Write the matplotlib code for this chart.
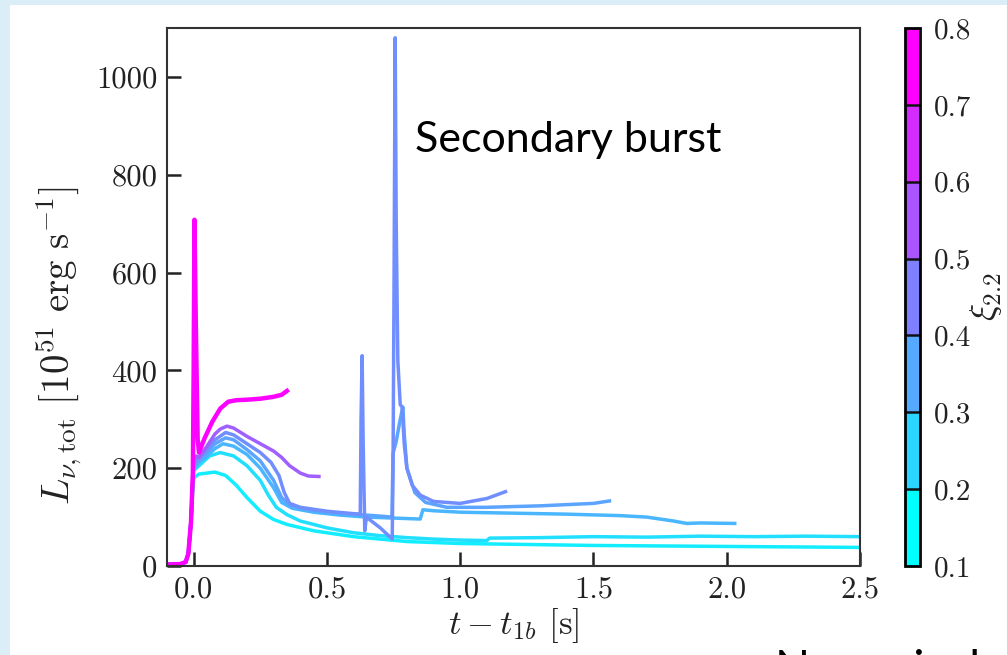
import numpy as np
import matplotlib
matplotlib.use("Agg")
import matplotlib.pyplot as plt
from matplotlib.patches import Rectangle
from matplotlib.colors import BoundaryNorm, Normalize
from matplotlib.cm import ScalarMappable
from matplotlib.ticker import FormatStrFormatter

# ---------------- data ----------------
xi_values = [0.15, 0.19, 0.30, 0.35, 0.41, 0.54, 0.79]

t_g = [-0.10, -0.05, -0.03, -0.02, -0.01, -0.003, 0.0, 0.02, 0.05, 0.08, 0.12, 0.16, 0.20, 0.25,
       0.30, 0.35, 0.45, 0.60, 0.80, 1.00, 1.50, 2.00, 2.50]
L_g = [3, 4, 8, 25, 90, 160, 180, 188, 190, 192, 185, 165, 140, 112,
       95, 85, 72, 60, 50, 46, 42, 40, 38]

t_f = [-0.10, -0.05, -0.03, -0.02, -0.01, -0.003, 0.0, 0.03, 0.06, 0.10, 0.15, 0.20, 0.25, 0.28,
       0.31, 0.35, 0.40, 0.50, 0.60, 0.70, 0.80, 0.90, 1.00, 1.10, 1.11, 1.30, 1.50, 1.70,
       1.90, 2.10, 2.30, 2.50]
L_f = [3, 4, 8, 25, 90, 170, 195, 210, 225, 232, 225, 205, 175, 145,
       120, 105, 92, 78, 68, 62, 58, 55, 53, 52, 57, 58, 60, 59,
       61, 60, 61, 60]

t_e = [-0.10, -0.05, -0.03, -0.02, -0.01, -0.003, 0.0, 0.02, 0.05, 0.08, 0.11, 0.15, 0.20, 0.25,
       0.30, 0.33, 0.37, 0.45, 0.55, 0.65, 0.75, 0.85, 0.86, 0.90, 1.00, 1.20, 1.40, 1.60,
       1.70, 1.80, 1.85, 1.90, 2.03]
L_e = [3, 4, 8, 25, 90, 175, 200, 212, 225, 240, 250, 245, 228, 200,
       160, 130, 118, 110, 104, 100, 98, 96, 115, 113, 110, 108, 106, 103,
       100, 92, 87, 88, 87]

t_d = [-0.10, -0.05, -0.03, -0.02, -0.01, -0.003, 0.0, 0.02, 0.05, 0.08, 0.12, 0.15, 0.20, 0.25,
       0.30, 0.33, 0.36, 0.40, 0.50, 0.60, 0.70, 0.744, 0.748, 0.760, 0.775, 0.785, 0.790,
       0.800, 0.830, 0.870, 0.950, 1.10, 1.30, 1.50, 1.56]
L_d = [3, 4, 8, 25, 90, 180, 205, 215, 232, 250, 262, 258, 238, 215,
       175, 140, 125, 118, 110, 106, 102, 100, 230, 255, 300, 325, 270,
       200, 150, 130, 120, 120, 123, 128, 133]

t_c = [-0.10, -0.05, -0.03, -0.02, -0.01, -0.003, 0.0, 0.02, 0.05, 0.08, 0.12, 0.15, 0.20, 0.25,
       0.29, 0.32, 0.34, 0.36, 0.40, 0.50, 0.60, 0.625, 0.628, 0.632, 0.636, 0.642, 0.648,
       0.655, 0.700, 0.745, 0.748, 0.752, 0.756, 0.760, 0.766, 0.775, 0.782, 0.790, 0.800,
       0.820, 0.850, 0.900, 1.00, 1.10, 1.17]
L_c = [3, 4, 8, 25, 90, 185, 210, 220, 238, 258, 273, 268, 250, 232,
       212, 185, 150, 128, 120, 112, 107, 106, 300, 430, 250, 72, 100,
       97, 78, 55, 200, 600, 1080, 700, 420, 330, 325, 250, 200,
       165, 145, 132, 128, 138, 152]

t_b = [-0.10, -0.05, -0.03, -0.02, -0.01, -0.003, 0.0, 0.01, 0.02, 0.05, 0.08, 0.10, 0.125, 0.15,
       0.20, 0.25, 0.30, 0.33, 0.36, 0.40, 0.43, 0.47]
L_b = [3, 4, 8, 25, 90, 180, 215, 225, 222, 245, 270, 280, 286, 282,
       265, 250, 235, 222, 205, 190, 184, 183]

t_a = [-0.10, -0.05, -0.03, -0.02, -0.01, -0.003, 0.0, 0.003, 0.008, 0.015, 0.02, 0.04, 0.07,
       0.10, 0.13, 0.16, 0.20, 0.25, 0.30, 0.33, 0.35]
L_a = [3, 4, 8, 25, 90, 190, 400, 708, 500, 260, 232, 260, 295,
       322, 336, 339, 340, 342, 346, 350, 358]

series_t = [t_g, t_f, t_e, t_d, t_c, t_b, t_a]
series_L = [L_g, L_f, L_e, L_d, L_c, L_b, L_a]

xticks = [0.0, 0.5, 1.0, 1.5, 2.0, 2.5]
yticks = [0, 200, 400, 600, 800, 1000]
cbar_bounds = [0.1, 0.2, 0.3, 0.4, 0.5, 0.6, 0.7, 0.8]

# ---------------- style ----------------
plt.rcParams['font.family'] = 'serif'
plt.rcParams['font.serif'] = ['cmr10', 'DejaVu Serif']
plt.rcParams['mathtext.fontset'] = 'cm'
plt.rcParams['axes.formatter.use_mathtext'] = True

fig = plt.figure(figsize=(10.07, 6.55), dpi=100, facecolor='#dbeef8')
fig.add_artist(Rectangle((10 / 1007, 0), 1, 1 - 5 / 655, transform=fig.transFigure,
                         facecolor='white', edgecolor='none', zorder=-10))

ax = fig.add_axes([167 / 1007, 1 - 566 / 655, 693 / 1007, 538 / 655])
cax = fig.add_axes([905 / 1007, 1 - 566 / 655, 15 / 1007, 538 / 655])

cmap = plt.get_cmap('cool')
line_norm = Normalize(0.1, 0.8)
for t, L, xi in zip(series_t, series_L, xi_values):
    lw = 3.2 if xi > 0.7 else 2.5
    ax.plot(t, L, color=cmap(line_norm(xi)), lw=lw, solid_joinstyle='round')

ax.set_xlim(-0.1, 2.5)
ax.set_ylim(0, 1100)
ax.set_xticks(xticks)
ax.set_yticks(yticks)
ax.xaxis.set_major_formatter(FormatStrFormatter('%.1f'))
ax.yaxis.set_major_formatter(FormatStrFormatter('%d'))
ax.tick_params(direction='in', length=10, width=1.8, labelsize=22, color='#222222',
               labelcolor='#222222', top=False, right=False, pad=7)
for s in ax.spines.values():
    s.set_linewidth(1.5)
    s.set_color('#333333')

ax.set_xlabel(r'$t - t_{1b}$ [s]', fontsize=25, labelpad=2, color='#222222')
ax.set_ylabel(r'$L_{\nu,\rm tot}\ [10^{51}\ {\rm erg\ s^{-1}}]$', fontsize=28, color='#222222')
ax.yaxis.set_label_coords(-0.12, 0.41)

bnorm = BoundaryNorm(cbar_bounds, cmap.N)
sm = ScalarMappable(norm=bnorm, cmap=cmap)
cb = fig.colorbar(sm, cax=cax, drawedges=True, ticks=cbar_bounds)
cb.ax.yaxis.set_major_formatter(FormatStrFormatter('%.1f'))
cb.ax.tick_params(length=0, labelsize=21, pad=10, labelcolor='#222222')
cb.outline.set_linewidth(2)
cb.dividers.set_linewidth(1.8)
cb.dividers.set_color('#111111')
cb.set_label(r'$\xi_{2.2}$', fontsize=26, labelpad=-2, color='#222222')

fig.text(415 / 1007, 1 - 152 / 655, 'Secondary burst', family='Lato', fontsize=31,
         va='baseline', ha='left', color='black')
fig.text(775 / 1007, 1 - 683 / 655, 'Numerical', family='Lato', fontsize=33,
         va='baseline', ha='left', color='black')

fig.savefig('out.png', dpi=100, facecolor=fig.get_facecolor())
